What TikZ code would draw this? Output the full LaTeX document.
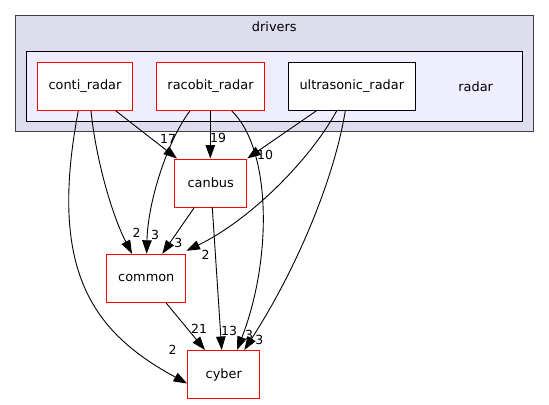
\documentclass[tikz,border=0pt]{standalone}
\usepackage{fontspec}
\setmainfont{DejaVu Sans}
\usetikzlibrary{arrows.meta}
\definecolor{clusterA}{HTML}{DDDDEE}
\definecolor{clusterB}{HTML}{EEEEFF}
\definecolor{clborder}{HTML}{404040}
\tikzset{
  dirbox/.style={draw=red, line width=1bp, fill=white, minimum height=48bp, inner sep=0pt, font=\fontsize{12.9bp}{15bp}\selectfont},
  blkbox/.style={dirbox, draw=black},
  dep/.style={line width=0.9bp, -{Triangle[length=13.5bp,width=9.5bp]}},
  lbl/.style={inner sep=0pt, font=\fontsize{12.5bp}{14bp}\selectfont}
}
\begin{document}
\begin{tikzpicture}[x=1bp,y=-1bp]
\useasboundingbox (0,0) rectangle (549,404);
% clusters
\draw[fill=clusterA, draw=clborder, line width=1.3bp] (15.3,15.7) rectangle (533.3,131.7);
\node[lbl, font=\fontsize{12.9bp}{15bp}\selectfont] (drv) at (274.3,27) {drivers};
\draw[fill=clusterB, draw=black, line width=1bp] (26.3,51.7) rectangle (522.7,121);
\node[lbl, font=\fontsize{12.9bp}{15bp}\selectfont] (rad) at (475.7,86.3) {radar};
% nodes
\node[dirbox, minimum width=95.4bp] (conti) at (85,86.3) {conti\_radar};
\node[dirbox, minimum width=108.4bp] (racobit) at (210.5,86.3) {racobit\_radar};
\node[blkbox, minimum width=127bp] (ultra) at (351.8,86.3) {ultrasonic\_radar};
\node[dirbox, minimum width=72bp] (canbus) at (210.7,183) {canbus};
\node[dirbox, minimum width=79.3bp] (common) at (146.3,278.3) {common};
\node[dirbox, minimum width=72.3bp] (cyber) at (223.8,374.5) {cyber};
% edges
\draw[dep] ([xshift=30.7bp]conti.south) -- ([xshift=2.8bp]canbus.north west) ;
\node[lbl] (l1) at (168,139) {17};
\draw[dep] ([xshift=6bp]conti.south) .. controls (96,160) and (112,215) .. ([xshift=-14.3bp]common.north) ;
\node[lbl] (l2) at (136.7,233.3) {2};
\draw[dep] ([xshift=-6.7bp]conti.south) .. controls (48,270) and (92,332) .. ([yshift=-9bp]cyber.west);
\node[lbl] (l3) at (172.7,350) {2};
\draw[dep] ([xshift=-0.2bp]racobit.south) -- ([xshift=-0.4bp]canbus.north);
\node[lbl] (l4) at (218,138) {19};
\draw[dep] ([xshift=-20.5bp]racobit.south) .. controls (168,140) and (148,200) .. ([xshift=0.3bp]common.north);
\node[lbl] (l5) at (155,235) {3};
\draw[dep] ([xshift=21.2bp]racobit.south) .. controls (272,150) and (272,260) .. ([xshift=13.2bp]cyber.north);
\node[lbl] (l6) at (249,335) {3};
\draw[dep] ([xshift=-35.4bp]ultra.south) -- (canbus.north east);
\node[lbl] (l7) at (265,155) {10};
\draw[dep] ([xshift=-15.1bp]ultra.south) .. controls (310,160) and (250,220) .. ([yshift=3bp]common.north east);
\node[lbl] (l8) at (205.7,255) {2};
\draw[dep] ([xshift=-6.5bp]ultra.south) .. controls (334,180) and (296,270) .. ([xshift=20.5bp]cyber.north);
\node[lbl] (l9) at (259.3,340) {3};
\draw[dep] ([xshift=-16.4bp]canbus.south) -- ([xshift=16bp]common.north);
\node[lbl] (l10) at (178.3,242.7) {3};
\draw[dep] ([xshift=1.6bp]canbus.south) -- ([xshift=-2.1bp]cyber.north);
\node[lbl] (l11) at (229,330.7) {13};
\draw[dep] ([xshift=19.7bp]common.south) -- ([xshift=-18.8bp]cyber.north);
\node[lbl] (l12) at (199,329.3) {21};
\end{tikzpicture}
\end{document}
